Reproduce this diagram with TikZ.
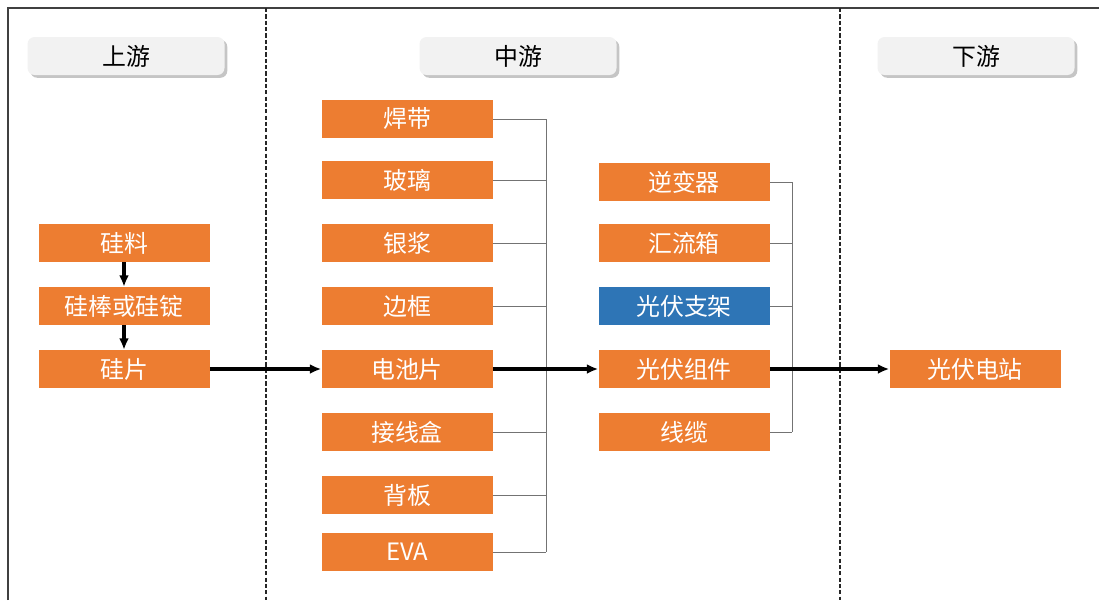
\documentclass[tikz,border=0pt]{standalone}
\usepackage{fontspec}
\setmainfont{Noto Sans CJK SC}
\usepackage{xcolor}
\usetikzlibrary{shadows,arrows.meta}

\definecolor{chainorange}{HTML}{ED7D31}
\definecolor{chainblue}{HTML}{2E75B6}
\definecolor{headgray}{HTML}{F2F2F2}

\tikzset{
  item/.style={fill=chainorange, text=white, minimum width=171*0.025cm, minimum height=38*0.025cm, inner sep=0pt, font=\fontsize{17}{20}\selectfont},
  itemblue/.style={item, fill=chainblue},
  head/.style={fill=headgray, rounded corners=5pt, minimum width=197*0.025cm, minimum height=38*0.025cm, inner sep=0pt, font=\fontsize{17}{20}\selectfont, drop shadow={shadow xshift=2pt, shadow yshift=-2pt, fill=black!45}},
  flow/.style={-{Latex[length=8pt,width=7pt]}, line width=2.2pt},
  bracketline/.style={draw=black!55, line width=0.6pt},
  divider/.style={line width=1.1pt, dash pattern=on 3pt off 1.5pt, black!85}
}

\begin{document}
\begin{tikzpicture}[x=0.025cm, y=-0.025cm]

		\useasboundingbox (0,0) rectangle (1099,600);
		\draw[black!75, line width=1.1pt] (8,600) -- (8,8) -- (1099,8);
		\draw[divider] (266,8) -- (266,600);
		\draw[divider] (840,8) -- (840,600);

		\node[head] (up) at (126,56) {上游};
		\node[head] (mid) at (518,56) {中游};
		\node[head] (down) at (976,56) {下游};

		\node[item] (silicon) at (124,243) {硅料};
		\node[item] (ingot) at (124,306) {硅棒或硅锭};
		\node[item] (wafer) at (124,369) {硅片};

		\node[item] (ribbon) at (407,119) {焊带};
		\node[item] (glass) at (407,180) {玻璃};
		\node[item] (paste) at (407,243) {银浆};
		\node[item] (frame) at (407,306) {边框};
		\node[item] (cell) at (407,369) {电池片};
		\node[item] (jbox) at (407,432) {接线盒};
		\node[item] (backsheet) at (407,495) {背板};
		\node[item] (eva) at (407,552) {EVA};

		\node[item] (inverter) at (684,182) {逆变器};
		\node[item] (combiner) at (684,243) {汇流箱};
		\node[itemblue] (mount) at (684,306) {光伏支架};
		\node[item] (module) at (684,369) {光伏组件};
		\node[item] (cable) at (684,432) {线缆};

		\node[item] (plant) at (975,369) {光伏电站};

		\coordinate (midbar) at (546,0);
		\coordinate (rightbar) at (792,0);
		\foreach \n in {ribbon,glass,paste,frame,cell,jbox,backsheet,eva}
			\draw[bracketline] (\n.east) -- (\n.east -| midbar);
		\draw[bracketline] (ribbon.east -| midbar) -- (eva.east -| midbar);
		\foreach \n in {inverter,combiner,mount,module,cable}
			\draw[bracketline] (\n.east) -- (\n.east -| rightbar);
		\draw[bracketline] (inverter.east -| rightbar) -- (cable.east -| rightbar);

		\draw[flow] (silicon) -- (ingot);
		\draw[flow] (ingot) -- (wafer);
		\draw[flow] (wafer) -- (cell);
		\draw[flow] (cell) -- (module);
		\draw[flow] (module) -- (plant);

\end{tikzpicture}
\end{document}
